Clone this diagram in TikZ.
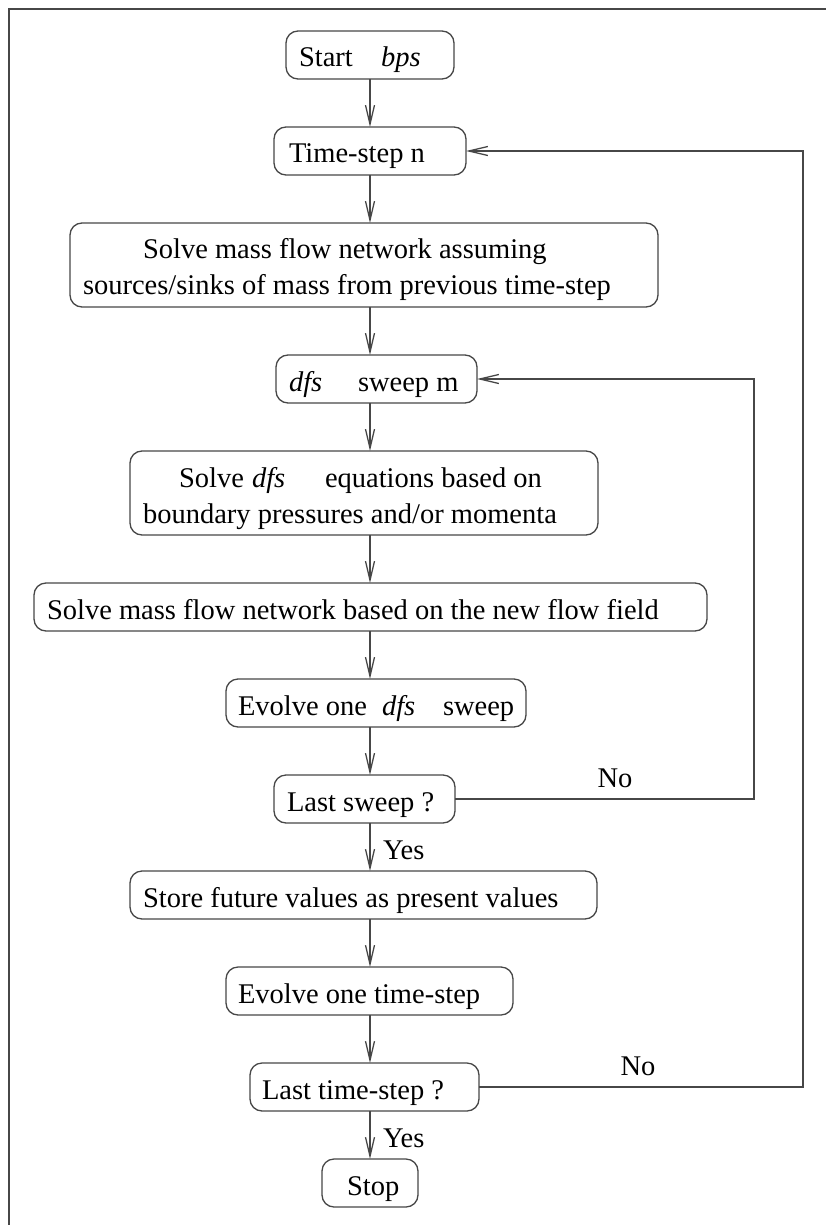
\documentclass[tikz,border=0pt]{standalone}
\usepackage{fontspec}
\setmainfont{Liberation Serif}
\usetikzlibrary{arrows.meta}
\definecolor{ink}{gray}{0.28}

\begin{document}
\begin{tikzpicture}[x=1pt,y=-1pt,
  every node/.style={inner sep=0pt, outer sep=0pt},
  box/.style={draw=ink, line width=1.3pt, rounded corners=12pt},
  txt/.style={anchor=base west, font=\fontsize{28.5}{36}\selectfont},
  lbl/.style={anchor=base, font=\fontsize{28.5}{36}\selectfont},
  flow/.style={draw=ink, line width=1.3pt,
    -{Straight Barb[length=19pt,width=9pt,line width=1.3pt]}},
  frame/.style={draw=ink, line width=1.6pt}
]
\useasboundingbox (0,0) rectangle (826,1225);

% page frame (top and left edges)
\draw[frame] (9,1225) -- (9,9) -- (826,9);

% column of process boxes
\node[box, minimum width=168pt, minimum height=48pt] (start)     at (370,55)    {};
\node[box, minimum width=192pt, minimum height=48pt] (tstep)     at (370,151)   {};
\node[box, minimum width=588pt, minimum height=84pt] (solvenet)  at (364,265)   {};
\node[box, minimum width=201pt, minimum height=48pt] (dsweep)    at (376.5,379) {};
\node[box, minimum width=468pt, minimum height=84pt] (solvedfs)  at (364,493)   {};
\node[box, minimum width=673pt, minimum height=48pt] (solveflow) at (370.5,607) {};
\node[box, minimum width=300pt, minimum height=48pt] (evdfs)     at (376,703)   {};
\node[box, minimum width=181pt, minimum height=48pt] (lsweep)    at (364.5,799) {};
\node[box, minimum width=467pt, minimum height=48pt] (store)     at (363.5,895) {};
\node[box, minimum width=287pt, minimum height=48pt] (evts)      at (369.5,991) {};
\node[box, minimum width=229pt, minimum height=48pt] (lts)       at (364.5,1087){};
\node[box, minimum width=96pt,  minimum height=48pt] (stop)      at (370,1183)  {};

% box texts
\node[txt] (t-start) at (299,67) {Start};
\node[txt] (t-bps)   at (381,67) {\textit{bps}};
\node[txt] (t-tstep) at (289,163) {Time-step n};
\node[txt] (t-net1)  at (143,258) {Solve mass flow network assuming};
\node[txt] (t-net2)  at (83,294)  {sources/sinks of mass from previous time-step};
\node[txt] (t-dsw1)  at (289,391) {\textit{dfs}};
\node[txt] (t-dsw2)  at (358,391) {sweep m};
\node[txt] (t-sd1)   at (179,487) {Solve};
\node[txt] (t-sd2)   at (252,487) {\textit{dfs}};
\node[txt] (t-sd3)   at (325,487) {equations based on};
\node[txt] (t-sd4)   at (143,523) {boundary pressures and/or momenta};
\node[txt] (t-flow)  at (47,619)  {Solve mass flow network based on the new flow field};
\node[txt] (t-ev1)   at (238,715) {Evolve one};
\node[txt] (t-ev2)   at (382,715) {\textit{dfs}};
\node[txt] (t-ev3)   at (443,715) {sweep};
\node[txt] (t-ls)    at (287,811) {Last sweep ?};
\node[txt] (t-store) at (143,907) {Store future values as present values};
\node[txt] (t-evts)  at (238,1003){Evolve one time-step};
\node[txt] (t-lts)   at (262,1099){Last time-step ?};
\node[txt] (t-stop)  at (347,1195){Stop};

% main flow down the spine
\coordinate (spine) at (370,0);
\draw[flow] (start.south -| spine)     -- (tstep.north -| spine);
\draw[flow] (tstep.south -| spine)     -- (solvenet.north -| spine);
\draw[flow] (solvenet.south -| spine)  -- (dsweep.north -| spine);
\draw[flow] (dsweep.south -| spine)    -- (solvedfs.north -| spine);
\draw[flow] (solvedfs.south -| spine)  -- (solveflow.north -| spine);
\draw[flow] (solveflow.south -| spine) -- (evdfs.north -| spine);
\draw[flow] (evdfs.south -| spine)     -- (lsweep.north -| spine);
\draw[flow] (lsweep.south -| spine)    -- (store.north -| spine);
\draw[flow] (store.south -| spine)     -- (evts.north -| spine);
\draw[flow] (evts.south -| spine)      -- (lts.north -| spine);
\draw[flow] (lts.south -| spine)       -- (stop.north -| spine);

% decision labels
\node[txt] (yes1) at (383,859)  {Yes};
\node[txt] (yes2) at (383,1147) {Yes};
\node[lbl] (no1)  at (615,787)  {No};
\node[lbl] (no2)  at (638,1075) {No};

% loop back to the next sweep
\coordinate (inner) at (754,0);
\draw[flow] (lsweep.east) -- (lsweep.east -| inner) -- (dsweep.east -| inner) -- (dsweep.east);

% loop back to the next time-step
\coordinate (outer) at (803,0);
\draw[flow] (lts.east) -- (lts.east -| outer) -- (tstep.east -| outer) -- (tstep.east);
\end{tikzpicture}
\end{document}
